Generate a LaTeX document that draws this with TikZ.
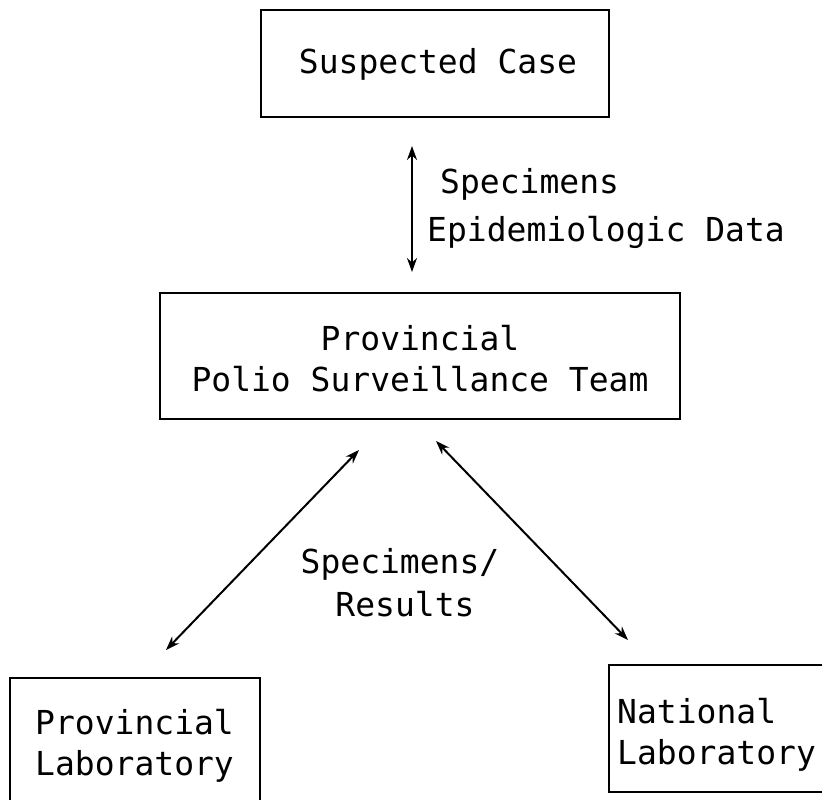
\documentclass[tikz,border=0pt]{standalone}
\usepackage{fontspec}
\setmonofont{DejaVu Sans Mono}
\usetikzlibrary{arrows.meta}
\begin{document}
\begin{tikzpicture}[x=1pt,y=-1pt,
  box/.style={draw, line width=2pt, inner sep=0pt},
  txt/.style={font=\fontsize{33}{41}\selectfont\ttfamily, inner sep=0pt},
  link/.style={line width=2pt, {Stealth[length=14pt,width=10pt]}-{Stealth[length=14pt,width=10pt]}}]
\useasboundingbox (0,0) rectangle (822,800);
\clip (0,0) rectangle (822,800);
% boxes
\node[box, minimum width=348pt, minimum height=107pt] (susp) at (435,63.5) {};
\node[txt] (susptxt) at (438,64) {Suspected Case};
\node[box, minimum width=520pt, minimum height=126pt] (team) at (420,356) {};
\node[txt, align=center] (teamtxt) at (420,359) {Provincial\\Polio Surveillance Team};
\node[box, minimum width=250pt, minimum height=162pt] (plab) at (135,759) {};
\node[txt, align=left, anchor=west] (plabtxt) at (35,746) {Provincial\\Laboratory};
\node[box, minimum width=231pt, minimum height=127pt] (nlab) at (724.5,728.5) {};
\node[txt, align=left, anchor=west] (nlabtxt) at (617,735) {National\\Laboratory};
% labels
\node[txt, anchor=west] (spec1) at (440,184) {Specimens};
\node[txt, anchor=west] (epi) at (427,232) {Epidemiologic Data};
\node[txt] (spec2) at (400,564) {Specimens/};
\node[txt] (res) at (405,604) {Results};
% connector ends
\coordinate (v1) at (412,146);
\coordinate (v2) at (412,272);
\coordinate (d1) at (359,450);
\coordinate (d2) at (166,650);
\coordinate (d3) at (436,441);
\coordinate (d4) at (628,640);
\draw[link] (v1) -- (v2);
\draw[link] (d1) -- (d2);
\draw[link] (d3) -- (d4);
\end{tikzpicture}
\end{document}
